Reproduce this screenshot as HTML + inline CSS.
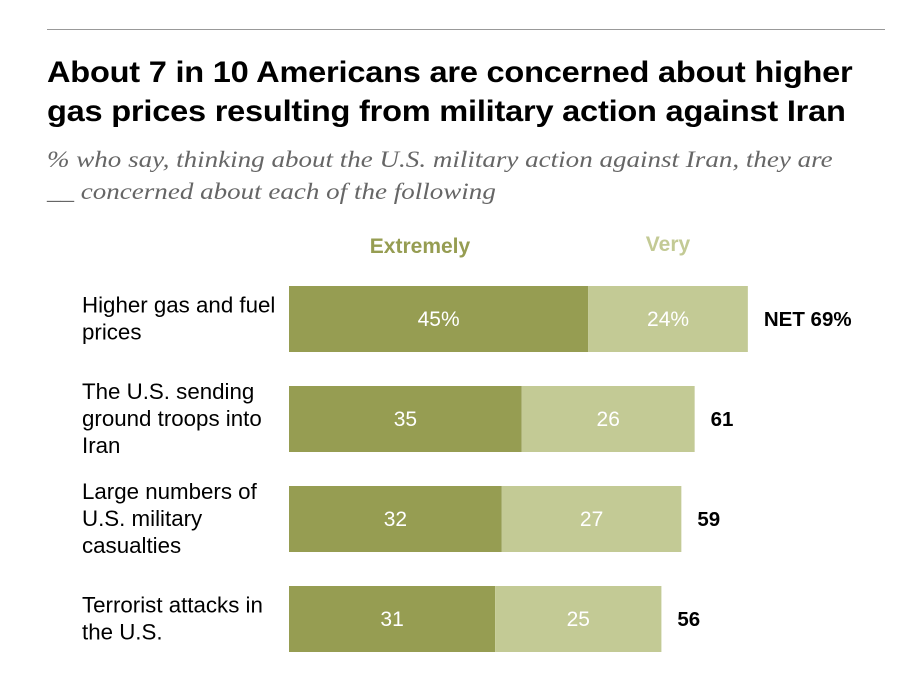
<!DOCTYPE html>
<html><head><meta charset="utf-8">
<style>
body{margin:0;background:#fff;width:914px;height:674px;overflow:hidden;font-family:"Liberation Sans",sans-serif;}
#rule{position:absolute;left:47px;top:29px;width:838px;height:1px;background:#999;}
#title{position:absolute;left:47px;top:53px;font-size:30px;font-weight:bold;line-height:39px;color:#000;letter-spacing:-0.2px;transform:scaleX(1.085);transform-origin:left;white-space:nowrap}
#sub{position:absolute;left:47px;top:144px;font-family:"Liberation Serif",serif;font-style:italic;font-size:23px;line-height:32px;color:#666;white-space:nowrap;transform:scaleX(1.175);transform-origin:left}
svg{position:absolute;left:0;top:0}
</style></head><body>
<div id="rule"></div>
<div id="title">About 7 in 10 Americans are concerned about higher<br>gas prices resulting from military action against Iran</div>
<div id="sub">% who say, thinking about the U.S. military action against Iran, they are<br>__ concerned about each of the following</div>
<svg id="chart" width="914" height="674"></svg>
<script>
const categories=[["Higher gas and fuel","prices"],["The U.S. sending","ground troops into","Iran"],["Large numbers of","U.S. military","casualties"],["Terrorist attacks in","the U.S."]];
const extremely=[45,35,32,31];
const very=[24,26,27,25];
const net=[69,61,59,56];
const svg=document.getElementById('chart');
const NS='http://www.w3.org/2000/svg';
const x0=289,scale=6.65;
function xs(v){return x0+v*scale;}
function ys(i){return 286+i*100;}
const bh=66;
function mk(tag,attrs,txt){const e=document.createElementNS(NS,tag);for(const k in attrs)e.setAttribute(k,attrs[k]);if(txt!=null)e.textContent=txt;svg.appendChild(e);return e;}
let l1=mk('text',{x:420,y:253,'text-anchor':'middle','font-size':21,'font-weight':'bold',fill:'#969d52'},'Extremely');


let l2=mk('text',{x:668,y:251,'text-anchor':'middle','font-size':21,'font-weight':'bold',fill:'#c3ca95'},'Very');


categories.forEach((c,i)=>{
  const y=ys(i);
  const n=c.length;const cy=y+bh/2;const start=cy-(n-1)*13.5+7;
  c.forEach((line,j)=>{
    const t=mk('text',{x:82,y:start+j*27,'font-size':22.3,fill:'#000'},line);
    
    
  });
  const r1=mk('rect',{x:xs(0),y:y,width:xs(extremely[i])-xs(0),height:bh,fill:'#969d52'});
  
  
  const r2=mk('rect',{x:xs(extremely[i]),y:y,width:xs(extremely[i]+very[i])-xs(extremely[i]),height:bh,fill:'#c3ca95'});
  
  
  const sfx=i===0?'%':'';
  const t1=mk('text',{x:(xs(0)+xs(extremely[i]))/2,y:cy+7,'text-anchor':'middle','font-size':21,fill:'#fff'},extremely[i]+sfx);
  
  
  const t2=mk('text',{x:(xs(extremely[i])+xs(extremely[i]+very[i]))/2,y:cy+7,'text-anchor':'middle','font-size':21,fill:'#fff'},very[i]+sfx);
  
  
  const t3=mk('text',{x:xs(extremely[i]+very[i])+16,y:cy+7,'font-size':20.5,'font-weight':'bold',fill:'#000'},(i===0?'NET ':'')+net[i]+sfx);
  
  
});
</script>
</body></html>
